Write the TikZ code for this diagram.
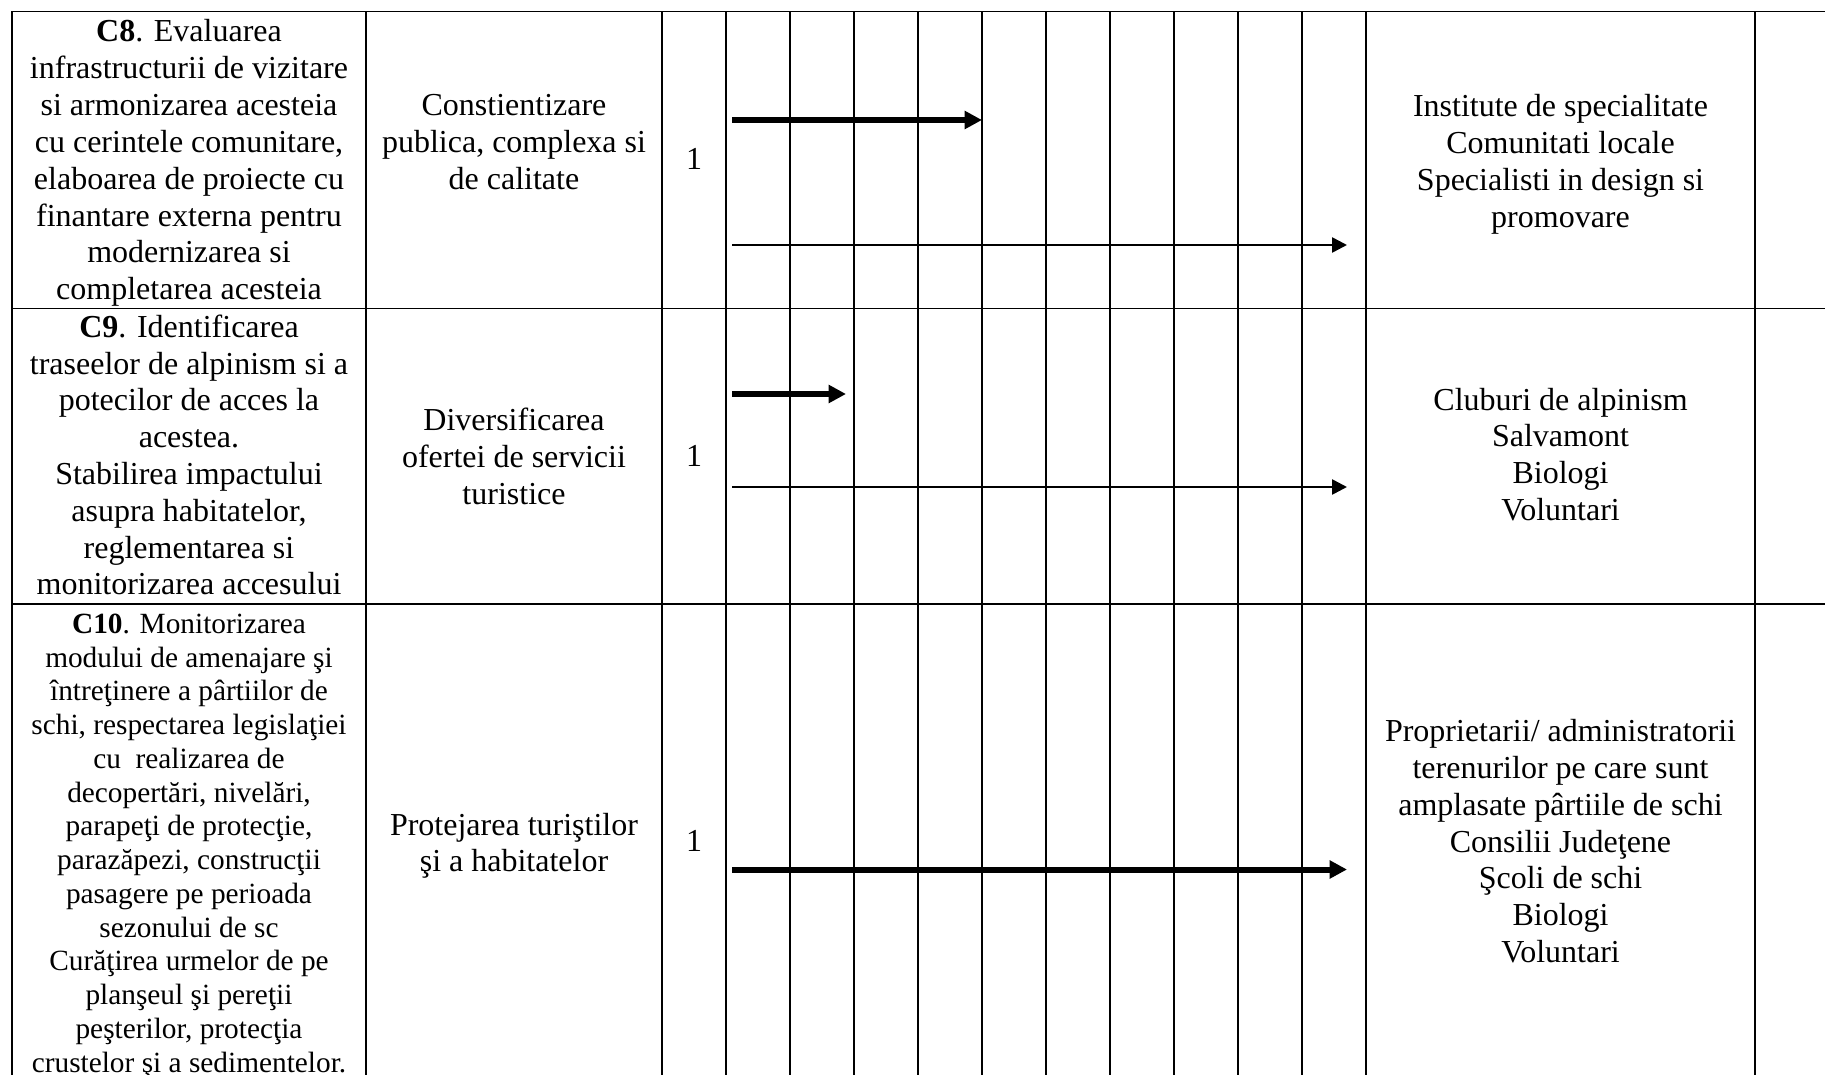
\documentclass[tikz,border=0pt]{standalone}
\usepackage{fontspec}
\setmainfont{Liberation Serif}
\usetikzlibrary{arrows.meta}
\begin{document}
\begin{tikzpicture}[x=1pt,y=-1pt,
  grid/.style={line width=1.3pt, black, line cap=rect},
  cell/.style={align=center, inner sep=0pt, anchor=base, font=\fontsize{32}{36.8}\selectfont},
  cellsmall/.style={align=center, inner sep=0pt, anchor=base, font=\fontsize{29.33}{33.73}\selectfont},
  thickbar/.style={line width=6pt, -{Triangle[length=17.5pt,width=17.5pt]}},
  thinbar/.style={line width=2.6pt, -{Triangle[length=15pt,width=15pt]}},
]
\useasboundingbox (0,0) rectangle (1825,1075);
\begin{scope}
\clip (0,0) rectangle (1825,1075);
% table grid
\foreach \yy in {11.3,308.3,604} \draw[grid] (12,\yy) -- (1830,\yy);
\foreach \xx in {12,366,662,726,790,854,918,982,1046,1110,1174,1238,1302,1366,1755}
  \draw[grid] (\xx,11.3) -- (\xx,1080);
\end{scope}

% row 1 (anchor = baseline of the last line)
\node[cell] (r1a) at (189,299.6) {\textbf{C8}. Evaluarea\\infrastructurii de vizitare\\si armonizarea acesteia\\cu cerintele comunitare,\\elaboarea de proiecte cu\\finantare externa pentru\\modernizarea si\\completarea acesteia};
\node[cell] (r1b) at (514,189.6) {Constientizare\\publica, complexa si\\de calitate};
\node[cell] (r1c) at (694,170) {1};
\node[cell] (r1d) at (1560.5,227.1) {Institute de specialitate\\Comunitati locale\\Specialisti in design si\\promovare};

% row 2
\node[cell] (r2a) at (189,594.9) {\textbf{C9}. Identificarea\\traseelor de alpinism si a\\potecilor de acces la\\acestea.\\Stabilirea impactului\\asupra habitatelor,\\reglementarea si\\monitorizarea accesului};
\node[cell] (r2b) at (514,504.3) {Diversificarea\\ofertei de servicii\\turistice};
\node[cell] (r2c) at (694,466) {1};
\node[cell] (r2d) at (1560.5,520.4) {Cluburi de alpinism\\Salvamont\\Biologi\\Voluntari};

% row 3
\node[cellsmall] (r3a) at (189,1072) {\textbf{C10}. Monitorizarea\\modului de amenajare şi\\întreţinere a pârtiilor de\\schi, respectarea legislaţiei\\cu\ \ realizarea de\\decopertări, nivelări,\\parapeţi de protecţie,\\parazăpezi, construcţii\\pasagere pe perioada\\sezonului de sc\\Curăţirea urmelor de pe\\planşeul şi pereţii\\peşterilor, protecţia\\crustelor şi a sedimentelor.};
\node[cell] (r3b) at (514,871.8) {Protejarea turiştilor\\şi a habitatelor};
\node[cell] (r3c) at (694,851.7) {1};
\node[cell] (r3d) at (1560.5,962.5) {Proprietarii/ administratorii\\terenurilor pe care sunt\\amplasate pârtiile de schi\\Consilii Judeţene\\Şcoli de schi\\Biologi\\Voluntari};

% bars
\coordinate (a1s) at (732,120);   \coordinate (a1e) at (982,120);
\coordinate (b1s) at (732,245);   \coordinate (b1e) at (1347,245);
\coordinate (a2s) at (732,394);   \coordinate (a2e) at (846,394);
\coordinate (b2s) at (732,487);   \coordinate (b2e) at (1347,487);
\coordinate (a3s) at (732,869.5); \coordinate (a3e) at (1347,869.5);
\draw[thickbar] (a1s) -- (a1e);
\draw[thinbar] (b1s) -- (b1e);
\draw[thickbar] (a2s) -- (a2e);
\draw[thinbar] (b2s) -- (b2e);
\draw[thickbar] (a3s) -- (a3e);
\end{tikzpicture}
\end{document}
